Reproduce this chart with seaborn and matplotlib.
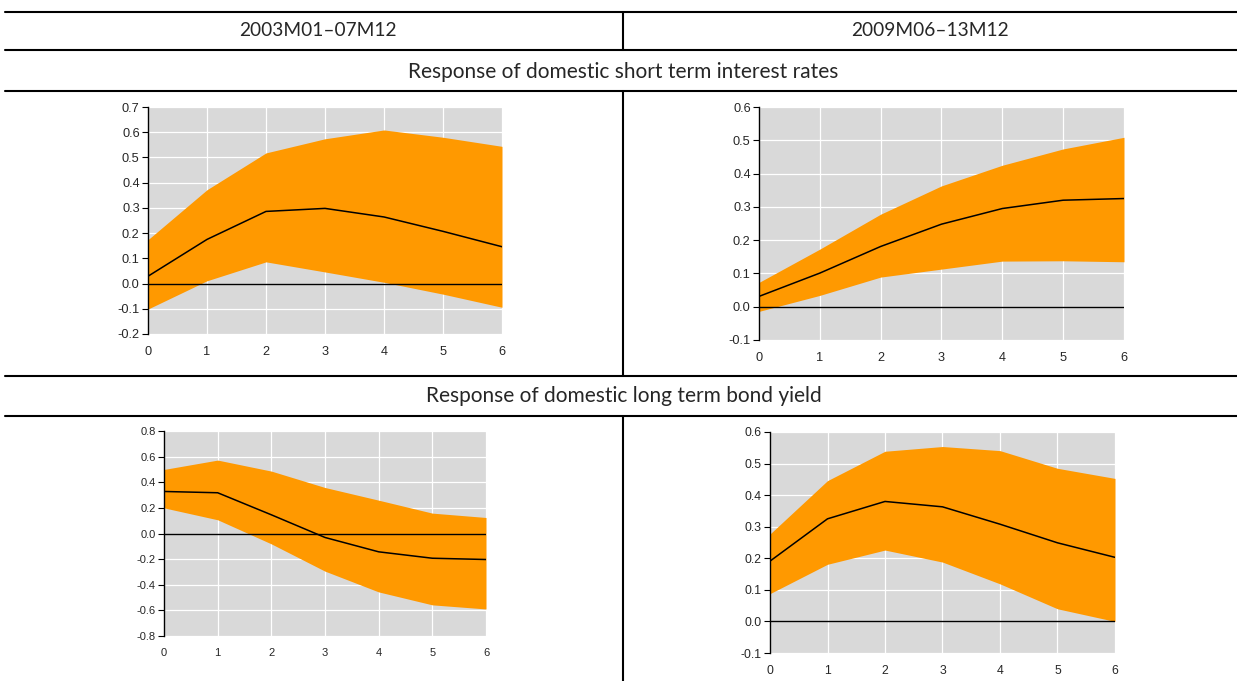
import numpy as np
import matplotlib
matplotlib.use("Agg")
import matplotlib.pyplot as plt
from matplotlib.lines import Line2D
import seaborn as sns

# horizon (months after shock)
horizon = [0, 1, 2, 3, 4, 5, 6]

period_labels = ["2003M01\u201307M12", "2009M06\u201313M12"]
section_titles = ["Response of domestic short term interest rates",
                  "Response of domestic long term bond yield"]

# short term rates, 2003-07
sr1_mid = [0.029, 0.175, 0.286, 0.298, 0.264, 0.207, 0.146]
sr1_hi = [0.174, 0.372, 0.518, 0.574, 0.609, 0.580, 0.544]
sr1_lo = [-0.101, 0.011, 0.086, 0.046, 0.005, -0.042, -0.094]

# short term rates, 2009-13
sr2_mid = [0.031, 0.101, 0.181, 0.248, 0.295, 0.320, 0.325]
sr2_hi = [0.073, 0.173, 0.278, 0.363, 0.425, 0.474, 0.509]
sr2_lo = [-0.014, 0.034, 0.089, 0.113, 0.137, 0.138, 0.135]

# long term yield, 2003-07
ly1_mid = [0.328, 0.318, 0.146, -0.031, -0.143, -0.193, -0.203]
ly1_hi = [0.500, 0.573, 0.487, 0.359, 0.260, 0.159, 0.125]
ly1_lo = [0.200, 0.107, -0.081, -0.294, -0.456, -0.557, -0.589]

# long term yield, 2009-13
ly2_mid = [0.191, 0.325, 0.380, 0.363, 0.308, 0.249, 0.203]
ly2_hi = [0.277, 0.446, 0.539, 0.554, 0.541, 0.485, 0.453]
ly2_lo = [0.088, 0.181, 0.226, 0.188, 0.119, 0.040, 0.000]

sns.set_style("white", {"axes.facecolor": "#d9d9d9"})
plt.rcParams['font.family'] = ['Liberation Sans', 'DejaVu Sans']

W, H = 1237, 681
fig = plt.figure(figsize=(W / 100, H / 100), dpi=100)


def rect(l, r, t, b):
    return [l / W, 1 - b / H, (r - l) / W, (b - t) / H]


def panel(box, mid, hi, lo, ylim, ystep, fs):
    ax = fig.add_axes(rect(*box))
    ax.fill_between(horizon, lo, hi, color="#ff9900", lw=0, zorder=2)
    sns.lineplot(x=horizon, y=mid, color="black", lw=1.1, ax=ax, zorder=4)
    ax.axhline(0, color="black", lw=1.0, zorder=3)
    ax.set_xlim(0, 6)
    ax.set_ylim(*ylim)
    ax.set_xticks(horizon)
    yt = np.round(np.arange(ylim[0], ylim[1] + ystep / 2, ystep), 2) + 0.0
    ax.set_yticks(yt)
    ax.set_yticklabels(["%.1f" % (v if abs(v) > 1e-9 else 0.0) for v in yt])
    ax.grid(True, color="white", lw=0.9, zorder=1)
    ax.set_axisbelow(True)
    for s in ["top", "right", "bottom"]:
        ax.spines[s].set_visible(False)
    ax.spines["left"].set_color("black")
    ax.spines["left"].set_linewidth(1.0)
    ax.tick_params(axis="y", left=True, length=4, color="black", labelsize=fs, pad=2)
    ax.tick_params(axis="x", bottom=False, labelsize=fs, pad=5)
    return ax


panel((148, 502, 107, 334), sr1_mid, sr1_hi, sr1_lo, (-0.2, 0.7), 0.1, 9.2)
panel((759, 1124, 107, 340), sr2_mid, sr2_hi, sr2_lo, (-0.1, 0.6), 0.1, 9.2)
panel((164, 486, 431, 636), ly1_mid, ly1_hi, ly1_lo, (-0.8, 0.8), 0.2, 8.0)
panel((770, 1115, 432, 653), ly2_mid, ly2_hi, ly2_lo, (-0.1, 0.6), 0.1, 8.8)


def hline(py, x0=5, x1=W):
    fig.add_artist(Line2D([x0 / W, x1 / W], [1 - py / H, 1 - py / H], color="black", lw=1.5))


def vline(px, y0, y1):
    fig.add_artist(Line2D([px / W, px / W], [1 - y0 / H, 1 - y1 / H], color="black", lw=1.5))


for py in [12, 50, 91, 376, 416]:
    hline(py)
vline(623, 12, 50)
vline(623, 91, 376)
vline(623, 416, 681)

tfont = ['Lato', 'DejaVu Sans']
fig.text(318 / W, 1 - 31 / H, period_labels[0], ha="center", va="center", fontsize=13.8, family=tfont)
fig.text(930 / W, 1 - 31 / H, period_labels[1], ha="center", va="center", fontsize=13.8, family=tfont)
fig.text(623 / W, 1 - 72 / H, section_titles[0], ha="center", va="center", fontsize=15, family=tfont)
fig.text(624 / W, 1 - 396 / H, section_titles[1], ha="center", va="center", fontsize=15, family=tfont)

fig.savefig("out.png", dpi=100)
